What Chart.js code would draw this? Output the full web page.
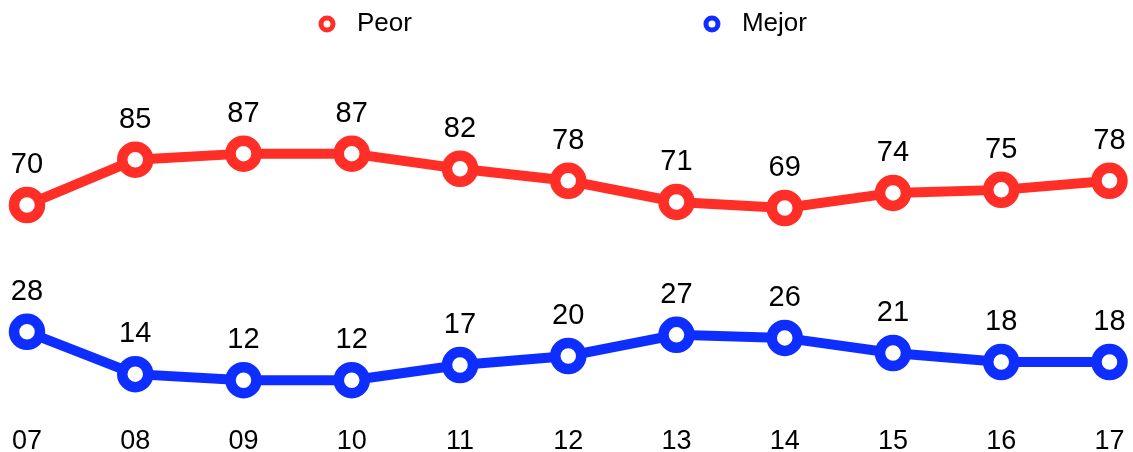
<!DOCTYPE html>
<html>
<head>
<meta charset="utf-8">
<script src="https://cdn.jsdelivr.net/npm/chart.js@4/dist/chart.umd.min.js"></script>
<style>
html,body{margin:0;padding:0;background:#fff;}
#wrap{width:1133px;height:452px;position:relative;}
</style>
</head>
<body>
<div id="wrap"><canvas id="c"></canvas></div>
<script>
const categories = ['07','08','09','10','11','12','13','14','15','16','17'];
const peor = [70,85,87,87,82,78,71,69,74,75,78];
const mejor = [28,14,12,12,17,20,27,26,21,18,18];
const seriesNames = ['Peor','Mejor'];
const RED = 'rgb(255,46,38)';
const BLUE = 'rgb(14,46,255)';
const FONT = '"Liberation Sans", Arial, sans-serif';

const ICON_W = 307;
function legendIcon(color){
  const cv = document.createElement('canvas');
  cv.width = ICON_W; cv.height = 20;
  const g = cv.getContext('2d');
  g.beginPath();
  g.arc(ICON_W - 17, 10, 6, 0, Math.PI*2);
  g.fillStyle = '#fff';
  g.fill();
  g.lineWidth = 5;
  g.strokeStyle = color;
  g.stroke();
  return cv;
}
const icons = [legendIcon(RED), legendIcon(BLUE)];

const labelPlugin = {
  id: 'valueLabels',
  afterDatasetsDraw(chart){
    const ctx = chart.ctx;
    ctx.save();
    ctx.font = '29px ' + FONT;
    ctx.fillStyle = '#000';
    ctx.textAlign = 'center';
    ctx.textBaseline = 'alphabetic';
    chart.data.datasets.forEach((ds, i) => {
      const meta = chart.getDatasetMeta(i);
      meta.data.forEach((pt, j) => {
        ctx.fillText(String(ds.data[j]), pt.x, pt.y - 32);
      });
    });
    ctx.restore();
  }
};

function ds(label, data, color){
  return {label, data, borderColor: color, backgroundColor: '#fff',
    borderWidth: 10, pointRadius: 13, pointHoverRadius: 13, pointBorderWidth: 10.5,
    pointBackgroundColor: '#fff', pointBorderColor: color, tension: 0, clip: false};
}

new Chart(document.getElementById('c'), {
  type: 'line',
  data: {
    labels: categories,
    datasets: [ds(seriesNames[0], peor, RED), ds(seriesNames[1], mejor, BLUE)]
  },
  options: {
    responsive: true,
    maintainAspectRatio: false,
    animation: false,
    layout: {padding: {left: 27, right: 19, top: 1, bottom: -7}},
    plugins: {
      tooltip: {enabled: false},
      legend: {
        position: 'top',
        align: 'start',
        labels: {
          usePointStyle: true,
          boxHeight: 16,
          pointStyleWidth: ICON_W,
          padding: 10,
          color: '#000',
          font: {size: 26, family: FONT},
          generateLabels(chart){
            const items = Chart.defaults.plugins.legend.labels.generateLabels(chart);
            items.forEach((it, i) => { it.pointStyle = icons[i]; });
            return items;
          }
        }
      }
    },
    scales: {
      x: {
        offset: false,
        grid: {display: false, drawTicks: false},
        border: {display: false},
        ticks: {color: '#000', padding: 0, maxRotation: 0, autoSkip: false,
                font: {size: 27, lineHeight: 1, family: FONT}}
      },
      y: {display: false, min: -4.0, max: 122.3}
    }
  },
  plugins: [labelPlugin]
});
</script>
</body>
</html>
